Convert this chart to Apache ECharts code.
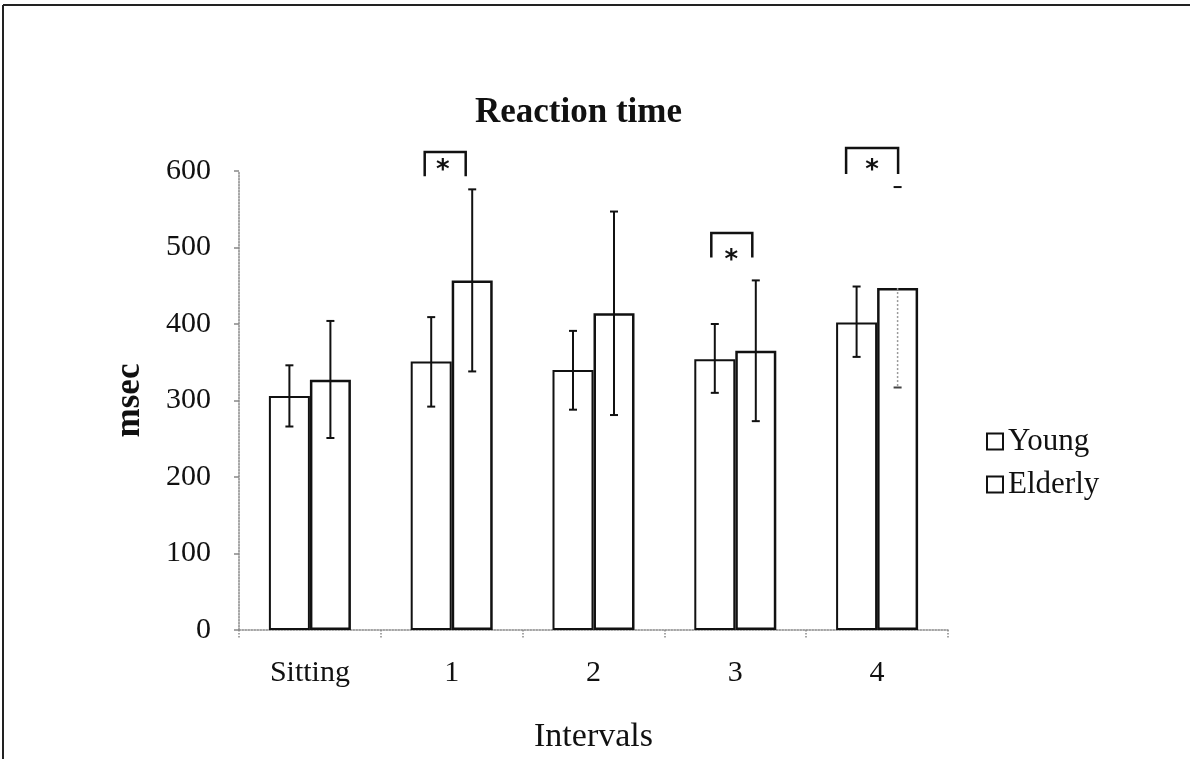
<!DOCTYPE html>
<html>
<head>
<meta charset="utf-8">
<script src="https://cdn.jsdelivr.net/npm/echarts@6/dist/echarts.min.js"></script>
<style>html,body{margin:0;padding:0;background:#fff;}#c{width:1190px;height:759px;}</style>
</head>
<body>
<div id="c"></div>
<script>
const categories = ['Sitting', '1', '2', '3', '4'];
const young = [306, 351, 340, 354, 402];
const elderly = [327, 457, 414, 365, 447];
const youngLow = [266, 292, 288, 310, 357];
const youngHigh = [346, 409, 391, 400, 449];
const elderlyLow = [251, 338, 281, 273, 317];
const elderlyHigh = [404, 576, 547, 457, 579];
const sigIndex = [1, 3, 4];
const sigTop = [625, 519, 630];
const sigLeg = [593, 487, 596];
const sigStar = [607, 490, 608];
const yTicks = [0, 100, 200, 300, 400, 500, 600];

const SERIF = '"Liberation Serif", "Times New Roman", serif';
const BAR_W = 41;
const bracketPx = [[-27, 14], [-24, 17], [-31, 21]];
const starPx = [-9, -4, -5];

const chart = echarts.init(document.getElementById('c'));

function errRender(offsetSign, lows, highs, vals, isElderly) {
  return function (params, api) {
    const i = api.value(0);
    const c = api.coord([i, api.value(1)]);
    const h = api.coord([i, api.value(2)]);
    const x = c[0] + offsetSign * BAR_W / 2;
    const cap = 4;
    const blk = {stroke: '#111', lineWidth: 2};
    const children = [];
    if (isElderly && i === 4) {
      const top = api.coord([i, vals[i]]);
      children.push({type: 'line', shape: {x1: x, y1: top[1], x2: x, y2: c[1]}, style: {stroke: '#999', lineWidth: 1.5, lineDash: [2, 2]}});
      children.push({type: 'line', shape: {x1: x - cap, y1: h[1], x2: x + cap, y2: h[1]}, style: blk});
      children.push({type: 'line', shape: {x1: x - cap, y1: c[1], x2: x + cap, y2: c[1]}, style: {stroke: '#444', lineWidth: 2}});
    } else {
      children.push({type: 'line', shape: {x1: x, y1: c[1], x2: x, y2: h[1]}, style: blk});
      children.push({type: 'line', shape: {x1: x - cap, y1: h[1], x2: x + cap, y2: h[1]}, style: blk});
      children.push({type: 'line', shape: {x1: x - cap, y1: c[1], x2: x + cap, y2: c[1]}, style: blk});
    }
    return {type: 'group', children: children};
  };
}

const option = {
  animation: false,
  backgroundColor: '#fff',
  grid: {left: 239, right: 242, top: 171, bottom: 121, containLabel: false},
  legend: {
    orient: 'vertical', left: 981, top: 421,
    icon: 'rect', itemWidth: 16, itemHeight: 16, itemGap: 12,
    data: ['Young', 'Elderly'],
    textStyle: {fontFamily: SERIF, fontSize: 31, color: '#111'}
  },
  xAxis: {
    type: 'category', data: categories,
    name: 'Intervals', nameLocation: 'middle', nameGap: 90,
    nameTextStyle: {fontFamily: SERIF, fontSize: 34, color: '#111'},
    axisLine: {lineStyle: {color: '#888', type: 'dotted', width: 1.5}},
    axisTick: {show: true, length: 8, lineStyle: {color: '#888', type: 'dotted', width: 1.5}},
    axisLabel: {fontFamily: SERIF, fontSize: 30, color: '#111', margin: 28}
  },
  yAxis: {
    type: 'value', min: 0, max: 600, interval: 100,
    name: 'msec', nameLocation: 'middle', nameGap: 92, nameRotate: 90,
    nameTextStyle: {fontFamily: SERIF, fontSize: 35, fontWeight: 'bold', color: '#111'},
    axisLine: {show: true, lineStyle: {color: '#888', type: 'dotted', width: 1.5}},
    axisTick: {show: true, length: 5, lineStyle: {color: '#888', width: 1.5}},
    splitLine: {show: false},
    axisLabel: {fontFamily: SERIF, fontSize: 30, color: '#111', margin: 28,
      formatter: function (v) { return yTicks.indexOf(v) >= 0 ? String(v) : ''; }}
  },
  graphic: [
    {type: 'text', left: 475, top: 95, style: {text: 'Reaction time', font: 'bold 35px ' + SERIF, fill: '#111'}},
    {type: 'line', shape: {x1: 3, y1: 5, x2: 1190, y2: 5}, style: {stroke: '#222', lineWidth: 2}},
    {type: 'line', shape: {x1: 3, y1: 5, x2: 3, y2: 759}, style: {stroke: '#222', lineWidth: 2}}
  ],
  series: [
    {
      name: 'Young', type: 'bar', data: young, barWidth: BAR_W, barGap: '0%',
      itemStyle: {color: '#fff', borderColor: '#111', borderWidth: 2}
    },
    {
      name: 'Elderly', type: 'bar', data: elderly, barWidth: BAR_W, barGap: '0%',
      itemStyle: {color: '#fff', borderColor: '#111', borderWidth: 2.5}
    },
    {
      type: 'custom', silent: true, z: 5,
      data: categories.map((c, i) => [i, youngLow[i], youngHigh[i]]),
      renderItem: errRender(-1, youngLow, youngHigh, young, false)
    },
    {
      type: 'custom', silent: true, z: 5,
      data: categories.map((c, i) => [i, elderlyLow[i], elderlyHigh[i]]),
      renderItem: errRender(1, elderlyLow, elderlyHigh, elderly, true)
    },
    {
      type: 'custom', silent: true, z: 6, clip: false,
      data: sigIndex.map((idx, k) => [idx, sigTop[k], sigLeg[k], sigStar[k], k]),
      renderItem: function (params, api) {
        const i = api.value(0);
        const k = api.value(4);
        const t = api.coord([i, api.value(1)]);
        const l = api.coord([i, api.value(2)]);
        const s = api.coord([i, api.value(3)]);
        const xl = t[0] + bracketPx[k][0];
        const xr = t[0] + bracketPx[k][1];
        return {type: 'group', children: [
          {type: 'polyline', shape: {points: [[xl, l[1]], [xl, t[1]], [xr, t[1]], [xr, l[1]]]},
            style: {stroke: '#111', lineWidth: 2.5, fill: null}},
          {type: 'text', x: t[0] + starPx[k], y: s[1] + 6,
            style: {text: '*', font: 'bold 26px "DejaVu Sans", sans-serif', fill: '#111', align: 'center', verticalAlign: 'middle'}}
        ]};
      }
    }
  ]
};
chart.setOption(option);
</script>
</body>
</html>
